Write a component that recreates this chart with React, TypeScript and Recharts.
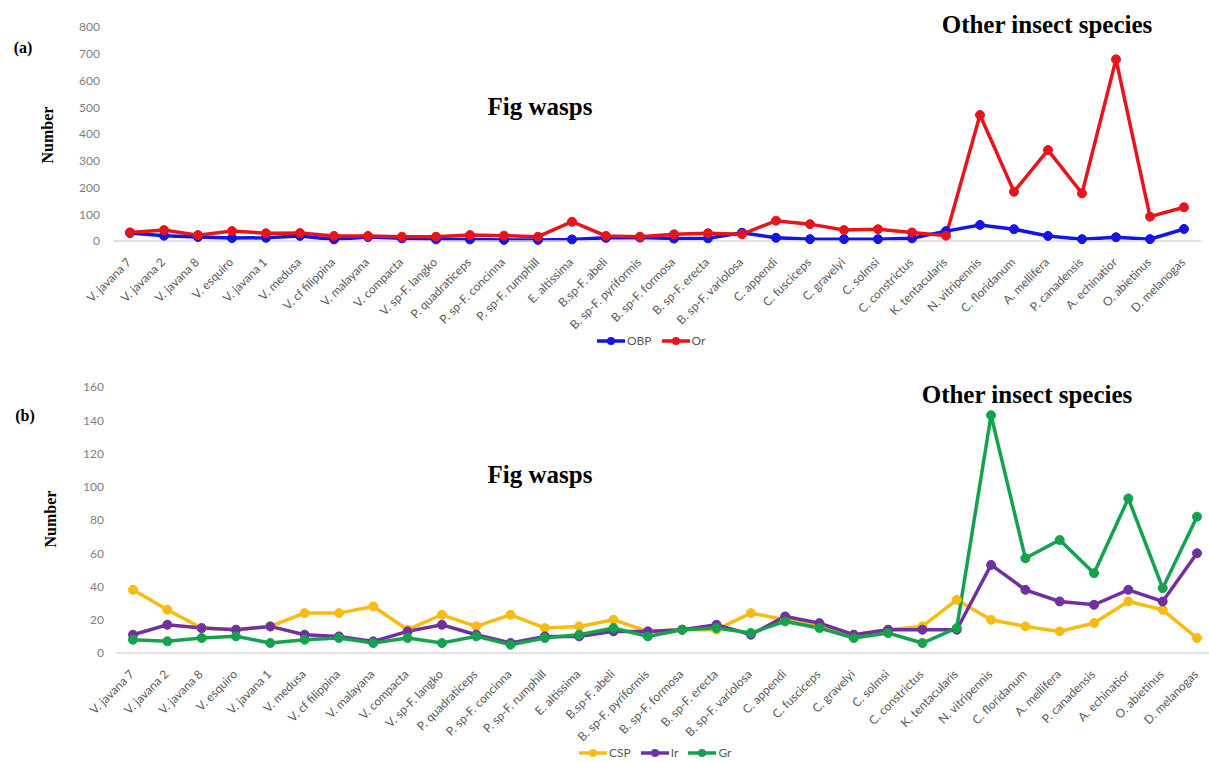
import React from 'react'
import { LineChart, Line, XAxis, YAxis } from 'recharts'

const species = [
  'V. javana 7', 'V. javana 2', 'V. javana 8', 'V. esquiro', 'V. javana 1', 'V. medusa',
  'V. cf filippina', 'V. malayana', 'V. compacta', 'V. sp-F. langko', 'P. quadraticeps',
  'P. sp-F. concinna', 'P. sp-F. rumphill', 'E. altissima', 'B.sp-F. abeli', 'B. sp-F. pyriformis',
  'B. sp-F. formosa', 'B. sp-F. erecta', 'B. sp-F. variolosa', 'C. appendi', 'C. fusciceps',
  'C. gravelyi', 'C. solmsi', 'C. constrictus', 'K. tentacularis', 'N. vitripennis',
  'C. floridanum', 'A. mellifera', 'P. canadensis', 'A. echinatior', 'O. abietinus', 'D. melanogas'
]

const obp = [30, 20, 15, 11, 12, 19, 6, 15, 10, 6, 6, 4, 4, 6, 12, 13, 9, 10, 31, 12, 7, 7, 7, 10, 37, 60, 44, 19, 7, 14, 7, 45]
const or = [32, 41, 22, 37, 29, 30, 19, 19, 16, 16, 22, 20, 16, 72, 19, 16, 25, 29, 25, 76, 63, 41, 44, 32, 20, 471, 184, 340, 178, 679, 91, 126]

const csp = [38, 26, 15, 14, 16, 24, 24, 28, 14, 23, 16, 23, 15, 16, 20, 13, 14, 14, 24, 20, 16, 11, 14, 16, 32, 20, 16, 13, 18, 31, 26, 9]
const ir = [11, 17, 15, 14, 16, 11, 10, 7, 13, 17, 11, 6, 10, 10, 13, 13, 14, 17, 11, 22, 18, 11, 14, 14, 14, 53, 38, 31, 29, 38, 31, 60]
const gr = [8, 7, 9, 10, 6, 8, 9, 6, 9, 6, 10, 5, 9, 11, 15, 10, 14, 15, 12, 19, 15, 9, 12, 6, 15, 143, 57, 68, 48, 93, 39, 82]

const ticksA = [0, 100, 200, 300, 400, 500, 600, 700, 800]
const ticksB = [0, 20, 40, 60, 80, 100, 120, 140, 160]

const dataA = species.map((name, i) => ({ name, OBP: obp[i], Or: or[i] }))
const dataB = species.map((name, i) => ({ name, CSP: csp[i], Ir: ir[i], Gr: gr[i] }))

const BLUE = '#1414e6'
const RED = '#e8141c'
const YELLOW = '#f7bb12'
const PURPLE = '#7030a0'
const GREEN = '#14a24e'

const tickFont = 'Lato, "Open Sans", sans-serif'
const serif = '"Liberation Serif", "Times New Roman", serif'

function XTick ({ x, y, payload }: any) {
  return (
    <g transform={`translate(${x + 2},${y + 22})`}>
      <text x={0} y={0} textAnchor="end" fill="#595959" fontSize={12} fontFamily={tickFont} transform="rotate(-45)">
        {payload.value}
      </text>
    </g>
  )
}

function LegendRow ({ items, left, top }: { items: { name: string, color: string }[], left: number, top: number }) {
  return (
    <div style={{ position: 'absolute', left, top, display: 'flex', alignItems: 'center', fontFamily: tickFont, fontSize: 12, lineHeight: '12px', color: '#595959' }}>
      {items.map((it) => (
        <div key={it.name} style={{ display: 'flex', alignItems: 'center', marginRight: 9 }}>
          <svg width={30} height={10}>
            <line x1={1} y1={5} x2={29} y2={5} stroke={it.color} strokeWidth={3.5} />
            <circle cx={15} cy={5} r={4} fill={it.color} />
          </svg>
          <span style={{ marginLeft: 1 }}>{it.name}</span>
        </div>
      ))}
    </div>
  )
}

function Text ({ children, x, y, size, rotate }: any) {
  return (
    <div style={{
      position: 'absolute', left: x, top: y, transform: `translate(-50%, -50%)${rotate ? ' rotate(-90deg)' : ''}`,
      fontFamily: serif, fontWeight: 'bold', fontSize: size, color: '#000', whiteSpace: 'nowrap'
    }}>
      {children}
    </div>
  )
}

const dotProps = (c: string) => ({ r: 4.5, fill: c, stroke: c, strokeWidth: 1 })

export default function App () {
  return (
    <div style={{ position: 'absolute', left: 0, top: 0, width: 1209, height: 762, background: '#fff', overflow: 'hidden' }}>
      <div style={{ position: 'absolute', left: 0, top: 0 }}>
        <LineChart width={1209} height={335} data={dataA} margin={{ top: 27, right: 8, left: 0, bottom: 14 }}>
          <XAxis
            dataKey="name"
            interval={0}
            tick={<XTick />}
            tickLine={false}
            tickSize={0}
            tickMargin={0}
            height={80}
            axisLine={{ stroke: '#d9d9d9', strokeWidth: 1.5 }}
            padding={{ left: 17, right: 17 }}
          />
          <YAxis
            width={113}
            domain={[0, 800]}
            ticks={ticksA}
            axisLine={false}
            tickLine={false}
            tickSize={0}
            tickMargin={13}
            tick={{ fill: '#7f7f7f', fontSize: 12, fontFamily: tickFont }}
          />
          <Line dataKey="OBP" stroke={BLUE} strokeWidth={3.5} dot={dotProps(BLUE)} activeDot={false} isAnimationActive={false} />
          <Line dataKey="Or" stroke={RED} strokeWidth={3.5} dot={dotProps(RED)} activeDot={false} isAnimationActive={false} />
        </LineChart>
      </div>

      <div style={{ position: 'absolute', left: 0, top: 360 }}>
        <LineChart width={1209} height={402} data={dataB} margin={{ top: 27, right: 0, left: 0, bottom: 29 }}>
          <XAxis
            dataKey="name"
            interval={0}
            tick={<XTick />}
            tickLine={false}
            tickSize={0}
            tickMargin={0}
            height={80}
            axisLine={{ stroke: '#d9d9d9', strokeWidth: 1.5 }}
            padding={{ left: 17, right: 12 }}
          />
          <YAxis
            width={116}
            domain={[0, 160]}
            ticks={ticksB}
            axisLine={false}
            tickLine={false}
            tickSize={0}
            tickMargin={12}
            tick={{ fill: '#7f7f7f', fontSize: 12, fontFamily: tickFont }}
          />
          <Line dataKey="CSP" stroke={YELLOW} strokeWidth={3.5} dot={dotProps(YELLOW)} activeDot={false} isAnimationActive={false} />
          <Line dataKey="Ir" stroke={PURPLE} strokeWidth={3.5} dot={dotProps(PURPLE)} activeDot={false} isAnimationActive={false} />
          <Line dataKey="Gr" stroke={GREEN} strokeWidth={3.5} dot={dotProps(GREEN)} activeDot={false} isAnimationActive={false} />
        </LineChart>
      </div>

      <Text x={23} y={48} size={16}>(a)</Text>
      <Text x={48} y={135} size={16} rotate>Number</Text>
      <Text x={540} y={107} size={25}>Fig wasps</Text>
      <Text x={1047} y={25} size={25}>Other insect species</Text>
      <LegendRow left={596} top={335} items={[{ name: 'OBP', color: BLUE }, { name: 'Or', color: RED }]} />

      <Text x={25} y={416} size={16}>(b)</Text>
      <Text x={51} y={519} size={16} rotate>Number</Text>
      <Text x={540} y={475} size={25}>Fig wasps</Text>
      <Text x={1027} y={395} size={25}>Other insect species</Text>
      <LegendRow left={578} top={747} items={[{ name: 'CSP', color: YELLOW }, { name: 'Ir', color: PURPLE }, { name: 'Gr', color: GREEN }]} />
    </div>
  )
}
